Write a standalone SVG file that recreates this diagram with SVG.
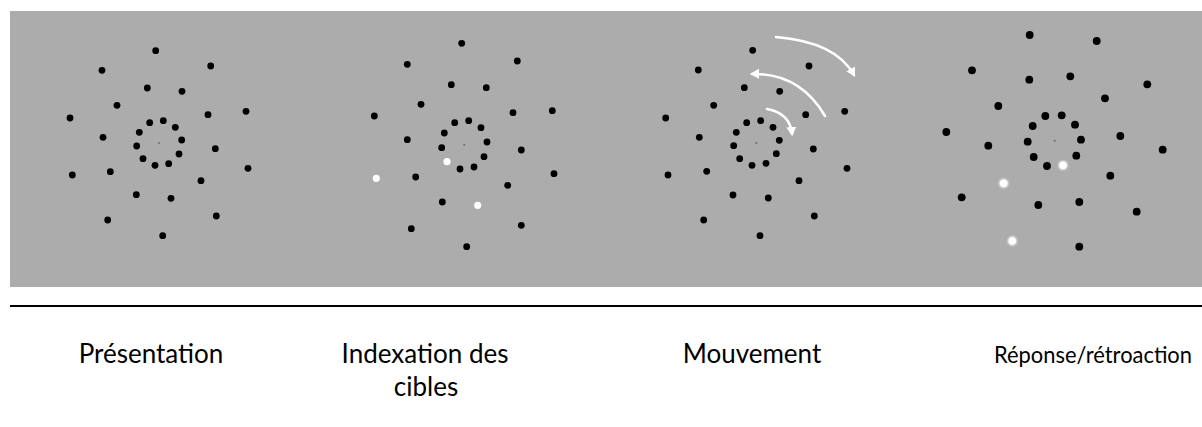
<svg xmlns="http://www.w3.org/2000/svg" width="1202" height="427" viewBox="0 0 1202 427">
<style>
.bg{fill:#acacac}
.d circle{fill:#000}
.d .w{fill:#fff}
.d .fx{fill:#6e6e6e}
.lbl{font-family:Lato,"Open Sans",sans-serif;font-size:26px;fill:#000;text-anchor:middle}
.arc{fill:none;stroke:#fff;stroke-width:2.6;stroke-linecap:round}
</style>
<defs>
<marker id="ah" markerUnits="userSpaceOnUse" markerWidth="12" markerHeight="12" refX="7" refY="5" orient="auto">
<path d="M0,0 L9,5 L0,10 Z" fill="#fff"/>
</marker>
<filter id="glow" x="-1" y="-1" width="3" height="3"><feGaussianBlur stdDeviation="0.8"/></filter>
</defs>
<rect class="bg" x="10" y="11" width="1192" height="276"/>
<line x1="10" y1="306" x2="1202" y2="306" stroke="#000" stroke-width="2"/>

<g id="panel1" class="d">
<circle cx="155.7" cy="50.7" r="3.4"/><circle cx="210.7" cy="66" r="3.4"/><circle cx="102" cy="70.3" r="3.4"/>
<circle cx="147.3" cy="88" r="3.4"/><circle cx="182" cy="91.3" r="3.4"/><circle cx="117" cy="105.3" r="3.4"/>
<circle cx="70" cy="118" r="3.4"/><circle cx="208" cy="114.7" r="3.4"/><circle cx="246" cy="111.3" r="3.4"/>
<circle cx="163.3" cy="120.7" r="3.4"/><circle cx="149.7" cy="122.7" r="3.4"/><circle cx="175.3" cy="127.3" r="3.4"/>
<circle cx="139.3" cy="132.3" r="3.4"/><circle cx="103" cy="137.3" r="3.4"/><circle cx="181.7" cy="140" r="3.4"/>
<circle cx="136.7" cy="146" r="3.4"/><circle cx="179" cy="154" r="3.4"/><circle cx="143" cy="158.7" r="3.4"/>
<circle cx="155" cy="165.3" r="3.4"/><circle cx="168.7" cy="163.7" r="3.4"/><circle cx="215.3" cy="148.7" r="3.4"/>
<circle cx="72.3" cy="175" r="3.4"/><circle cx="110.3" cy="171.7" r="3.4"/><circle cx="248" cy="168.3" r="3.4"/>
<circle cx="201" cy="180.7" r="3.4"/><circle cx="136.3" cy="194.7" r="3.4"/><circle cx="171" cy="198.3" r="3.4"/>
<circle cx="107.7" cy="220" r="3.4"/><circle cx="216.3" cy="216" r="3.4"/><circle cx="162.7" cy="235.7" r="3.4"/>
<circle class="fx" cx="159" cy="143" r="1"/>
</g>

<g id="panel2" class="d">
<circle cx="461.7" cy="43.3" r="3.4"/><circle cx="517.3" cy="61" r="3.4"/><circle cx="407.3" cy="64.3" r="3.4"/>
<circle cx="451.3" cy="84.7" r="3.4"/><circle cx="486.3" cy="87.7" r="3.4"/><circle cx="421" cy="104.3" r="3.4"/>
<circle cx="374.3" cy="116" r="3.4"/><circle cx="513" cy="112.7" r="3.4"/><circle cx="552.3" cy="110.7" r="3.4"/>
<circle cx="468.7" cy="120.7" r="3.4"/><circle cx="454.7" cy="122.7" r="3.4"/><circle cx="481" cy="127.7" r="3.4"/>
<circle cx="444.3" cy="133" r="3.4"/><circle cx="407.3" cy="139.7" r="3.4"/><circle cx="487" cy="142" r="3.4"/>
<circle cx="441.7" cy="147.7" r="3.4"/><circle cx="484" cy="156.7" r="3.4"/>
<circle cx="474" cy="167" r="3.4"/><circle cx="460" cy="169" r="3.4"/><circle cx="521.3" cy="150" r="3.4"/>
<circle cx="415.7" cy="177" r="3.4"/><circle cx="554" cy="173.7" r="3.4"/>
<circle cx="507.7" cy="185.3" r="3.4"/><circle cx="442.3" cy="202" r="3.4"/>
<circle cx="411.3" cy="228.7" r="3.4"/><circle cx="521.3" cy="225.3" r="3.4"/><circle cx="466.7" cy="246.7" r="3.4"/>
<circle class="w" cx="447" cy="161.7" r="3.6"/><circle class="w" cx="376.3" cy="178.3" r="3.6"/><circle class="w" cx="477.7" cy="205.3" r="3.6"/>
<circle class="fx" cx="464.3" cy="144.7" r="1"/>
</g>

<g id="panel3" class="d">
<circle cx="752.7" cy="50.3" r="3.4"/><circle cx="809" cy="66" r="3.4"/><circle cx="698.3" cy="70" r="3.4"/>
<circle cx="744.3" cy="87.7" r="3.4"/><circle cx="779.7" cy="91.3" r="3.4"/><circle cx="713.7" cy="105.3" r="3.4"/>
<circle cx="665.7" cy="118" r="3.4"/><circle cx="805.7" cy="114.7" r="3.4"/><circle cx="844.7" cy="111.3" r="3.4"/>
<circle cx="760.7" cy="120.7" r="3.4"/><circle cx="746.7" cy="122.7" r="3.4"/><circle cx="773" cy="127.3" r="3.4"/>
<circle cx="736.3" cy="132.3" r="3.4"/><circle cx="699.3" cy="137.3" r="3.4"/><circle cx="779.3" cy="140.3" r="3.4"/>
<circle cx="733.7" cy="145.7" r="3.4"/><circle cx="776.3" cy="153.7" r="3.4"/><circle cx="739.7" cy="158.7" r="3.4"/>
<circle cx="752" cy="165.3" r="3.4"/><circle cx="766" cy="163.3" r="3.4"/><circle cx="813.3" cy="149" r="3.4"/>
<circle cx="668" cy="175" r="3.4"/><circle cx="706.7" cy="171.3" r="3.4"/><circle cx="847" cy="168.3" r="3.4"/>
<circle cx="799" cy="180.7" r="3.4"/><circle cx="733" cy="195" r="3.4"/><circle cx="768.3" cy="198" r="3.4"/>
<circle cx="703.7" cy="220" r="3.4"/><circle cx="814.3" cy="216" r="3.4"/><circle cx="760" cy="235.7" r="3.4"/>
<circle class="fx" cx="756.3" cy="143" r="1"/>
</g>

<g id="panel4" class="d">
<circle cx="1029.7" cy="35" r="3.9"/><circle cx="1096.7" cy="41" r="3.9"/><circle cx="972" cy="70.3" r="3.9"/>
<circle cx="1029.3" cy="79.7" r="3.9"/><circle cx="1070.3" cy="76.3" r="3.9"/><circle cx="1147.3" cy="84.3" r="3.9"/>
<circle cx="998.3" cy="106" r="3.9"/><circle cx="1105" cy="98.3" r="3.9"/><circle cx="946.3" cy="132" r="3.9"/>
<circle cx="1045.3" cy="116" r="3.9"/><circle cx="1061.7" cy="115.3" r="3.9"/><circle cx="1032.7" cy="126" r="3.9"/>
<circle cx="1075" cy="124.7" r="3.9"/><circle cx="1027.7" cy="141.7" r="3.9"/><circle cx="1081" cy="139.7" r="3.9"/>
<circle cx="1120.3" cy="136" r="3.9"/><circle cx="988.3" cy="145.7" r="3.9"/><circle cx="1162.7" cy="149.7" r="3.9"/>
<circle cx="1033.7" cy="157" r="3.9"/><circle cx="1076.3" cy="155.7" r="3.9"/><circle cx="1047" cy="166" r="3.9"/>
<circle cx="1110.3" cy="175.7" r="3.9"/><circle cx="961.7" cy="197.3" r="3.9"/><circle cx="1038.3" cy="205" r="3.9"/>
<circle cx="1079.3" cy="202" r="3.9"/><circle cx="1136.7" cy="211.7" r="3.9"/><circle cx="1079.3" cy="246.7" r="3.9"/>
<g filter="url(#glow)"><circle class="w" cx="1063" cy="165.3" r="4.4"/><circle class="w" cx="1003.7" cy="183.3" r="4.4"/><circle class="w" cx="1012.3" cy="241" r="4.4"/></g>
<circle class="w" cx="1063" cy="165.3" r="3.6"/><circle class="w" cx="1003.7" cy="183.3" r="3.6"/><circle class="w" cx="1012.3" cy="241" r="3.6"/>
<circle class="fx" cx="1054.7" cy="140.7" r="1"/>
</g>

<g id="connectors">
<path class="arc" d="M776,37 Q836,42 854,75" marker-end="url(#ah)"/>
<path class="arc" d="M825,116 Q800,73 752,74" marker-end="url(#ah)"/>
<path class="arc" d="M767,109 Q790,113 792,134" marker-end="url(#ah)"/>
</g>

<g id="labels">
<text class="lbl" x="151" y="363">Présentation</text>
<text class="lbl" x="425" y="363">Indexation des</text>
<text class="lbl" x="426" y="396">cibles</text>
<text class="lbl" x="752" y="363">Mouvement</text>
<text class="lbl" x="994" y="363" style="text-anchor:start;font-size:24px" textLength="198" lengthAdjust="spacingAndGlyphs">Réponse/rétroaction</text>
</g>
</svg>
